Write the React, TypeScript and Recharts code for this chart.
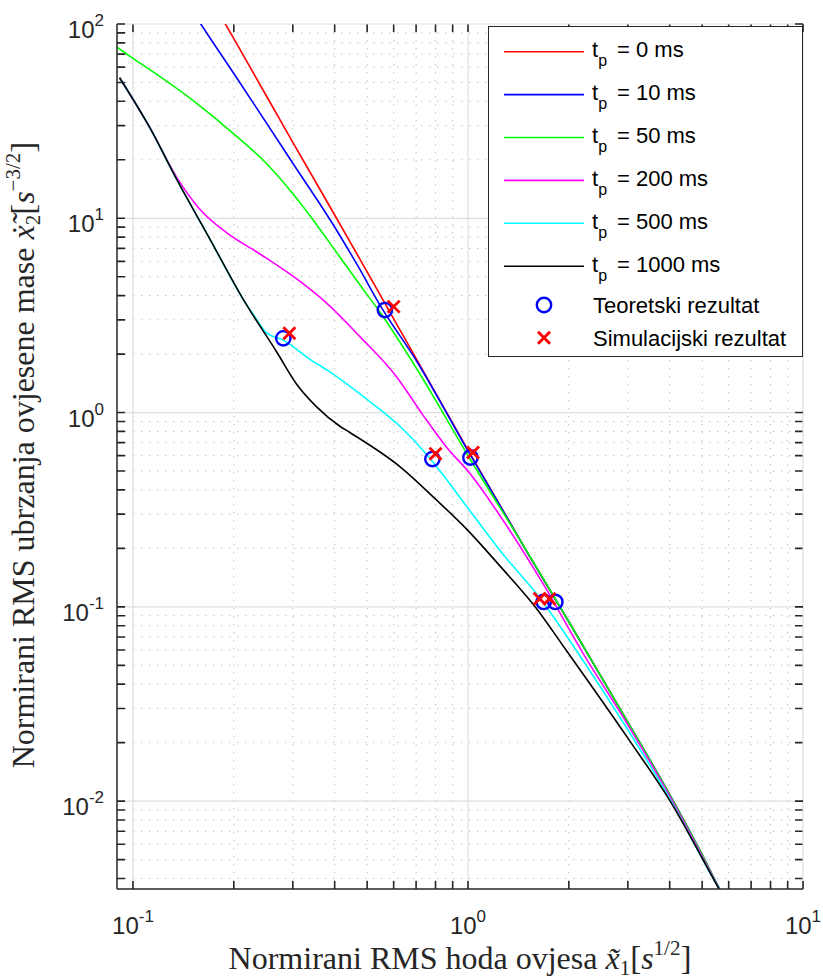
import React from 'react';
import { ComposedChart, Line, Scatter, XAxis, YAxis, ReferenceLine, Legend } from 'recharts';

// curves, one array per t_p
const tp0 = [
  { x: 0.178, y: 119 }, { x: 0.2, y: 84 }, { x: 0.3, y: 24.6 }, { x: 0.4, y: 10.4 },
  { x: 0.5, y: 5.3 }, { x: 0.7, y: 1.9 }, { x: 1.0, y: 0.64 }, { x: 1.5, y: 0.192 },
  { x: 2.0, y: 0.0838 }, { x: 3.0, y: 0.0255 }, { x: 4.0, y: 0.0108 }, { x: 5.0, y: 0.0053 },
  { x: 5.62, y: 0.00357 }, { x: 6.2, y: 0.0027 },
];
const tp10 = [
  { x: 0.145, y: 129 }, { x: 0.1594, y: 100 }, { x: 0.2, y: 55.6 }, { x: 0.2507, y: 30.8 },
  { x: 0.3, y: 19.2 }, { x: 0.394, y: 9.4 }, { x: 0.47, y: 5.65 }, { x: 0.549, y: 3.52 },
  { x: 0.7, y: 1.86 }, { x: 1.0, y: 0.635 }, { x: 1.5, y: 0.192 }, { x: 2.0, y: 0.0838 },
  { x: 3.0, y: 0.0255 }, { x: 4.0, y: 0.0108 }, { x: 5.0, y: 0.0053 }, { x: 5.62, y: 0.00357 },
  { x: 6.2, y: 0.0027 },
];
const tp50 = [
  { x: 0.0896, y: 76 }, { x: 0.0982, y: 68 }, { x: 0.1126, y: 58 }, { x: 0.1482, y: 41.4 },
  { x: 0.1994, y: 27.3 }, { x: 0.2507, y: 19.1 }, { x: 0.301, y: 13.3 }, { x: 0.345, y: 9.8 },
  { x: 0.387, y: 7.45 }, { x: 0.487, y: 4.3 }, { x: 0.541, y: 3.36 }, { x: 0.7, y: 1.7 },
  { x: 1.012, y: 0.58 }, { x: 1.5, y: 0.193 }, { x: 1.834, y: 0.108 }, { x: 2.0, y: 0.0838 },
  { x: 3.0, y: 0.0255 }, { x: 4.0, y: 0.0108 }, { x: 5.0, y: 0.0053 }, { x: 5.62, y: 0.00357 },
  { x: 6.2, y: 0.0027 },
];
const tp200 = [
  { x: 0.0912, y: 52.9 }, { x: 0.1126, y: 29 }, { x: 0.1352, y: 16.2 }, { x: 0.1586, y: 11.1 },
  { x: 0.1906, y: 8.41 }, { x: 0.2394, y: 6.55 }, { x: 0.301, y: 5.02 }, { x: 0.3785, y: 3.66 },
  { x: 0.4758, y: 2.46 }, { x: 0.6118, y: 1.53 }, { x: 0.734, y: 0.97 }, { x: 0.862, y: 0.665 },
  { x: 1.012, y: 0.487 }, { x: 1.271, y: 0.28 }, { x: 1.673, y: 0.132 }, { x: 2.201, y: 0.058 },
  { x: 3.0, y: 0.0247 }, { x: 4.0, y: 0.0106 }, { x: 5.0, y: 0.0052 }, { x: 5.62, y: 0.00355 },
  { x: 6.2, y: 0.0027 },
];
const tp500 = [
  { x: 0.0912, y: 52.9 }, { x: 0.1126, y: 29 }, { x: 0.1352, y: 15.8 }, { x: 0.17, y: 7.77 },
  { x: 0.2136, y: 3.81 }, { x: 0.232, y: 3.08 }, { x: 0.2507, y: 2.57 }, { x: 0.281, y: 2.36 },
  { x: 0.3375, y: 1.88 }, { x: 0.3872, y: 1.62 }, { x: 0.4866, y: 1.21 }, { x: 0.626, y: 0.85 },
  { x: 0.7516, y: 0.61 }, { x: 0.833, y: 0.49 }, { x: 0.989, y: 0.33 }, { x: 1.243, y: 0.196 },
  { x: 1.673, y: 0.106 }, { x: 2.104, y: 0.0598 }, { x: 3.0, y: 0.0233 }, { x: 4.0, y: 0.0103 },
  { x: 5.62, y: 0.00355 }, { x: 6.2, y: 0.0027 },
];
const tp1000 = [
  { x: 0.0912, y: 52.9 }, { x: 0.1126, y: 29 }, { x: 0.1352, y: 15.8 }, { x: 0.17, y: 7.77 },
  { x: 0.2136, y: 3.81 }, { x: 0.2686, y: 2.05 }, { x: 0.308, y: 1.4 }, { x: 0.3534, y: 1.07 },
  { x: 0.4147, y: 0.85 }, { x: 0.4437, y: 0.79 }, { x: 0.626, y: 0.527 }, { x: 0.805, y: 0.355 },
  { x: 0.989, y: 0.252 }, { x: 1.243, y: 0.163 }, { x: 1.58, y: 0.101 }, { x: 1.964, y: 0.0598 },
  { x: 3.0, y: 0.0211 }, { x: 4.0, y: 0.0101 }, { x: 5.62, y: 0.00352 }, { x: 6.2, y: 0.0026 },
];

const theoretical = [
  { x: 0.281, y: 2.41 }, { x: 0.565, y: 3.37 }, { x: 0.783, y: 0.576 },
  { x: 1.017, y: 0.587 }, { x: 1.683, y: 0.106 }, { x: 1.823, y: 0.106 },
];
const simulated = [
  { x: 0.293, y: 2.56 }, { x: 0.6, y: 3.51 }, { x: 0.8, y: 0.613 },
  { x: 1.035, y: 0.623 }, { x: 1.636, y: 0.11 }, { x: 1.751, y: 0.11 },
];

const xMajorTicks = [0.1, 1, 10];
const xMinorTicks = [0.2, 0.3, 0.4, 0.5, 0.6, 0.7, 0.8, 0.9, 2, 3, 4, 5, 6, 7, 8, 9];
const yMajorTicks = [0.01, 0.1, 1, 10, 100];
const yMinorTicks = [
  0.004, 0.005, 0.006, 0.007, 0.008, 0.009,
  0.02, 0.03, 0.04, 0.05, 0.06, 0.07, 0.08, 0.09,
  0.2, 0.3, 0.4, 0.5, 0.6, 0.7, 0.8, 0.9,
  2, 3, 4, 5, 6, 7, 8, 9,
  20, 30, 40, 50, 60, 70, 80, 90,
];

const xDomain: [number, number] = [0.0896, 10];
const yDomain: [number, number] = [0.00353, 100];

const series = [
  { key: 'tp0', label: '= 0 ms', color: '#ff0000', data: tp0 },
  { key: 'tp10', label: '= 10 ms', color: '#0000ff', data: tp10 },
  { key: 'tp50', label: '= 50 ms', color: '#00ff00', data: tp50 },
  { key: 'tp200', label: '= 200 ms', color: '#ff00ff', data: tp200 },
  { key: 'tp500', label: '= 500 ms', color: '#00ffff', data: tp500 },
  { key: 'tp1000', label: '= 1000 ms', color: '#000000', data: tp1000 },
];

const AXIS = '#262626';
const SANS = '"Liberation Sans", Arial, Helvetica, sans-serif';
const SERIF = '"Liberation Serif", "Times New Roman", serif';
const TICK_LEN = 8;
const TICK_W = 1.6;
const MAJOR_GRID = '#dedede';
const MINOR_GRID = '#c4c4c4';

const exp10 = (v: number) => Math.round(Math.log10(v));

const Power = ({ v }: { v: number }) => (
  <>
    10
    <tspan dy={-12} fontSize={17}>{String(exp10(v))}</tspan>
  </>
);

const BottomTick = (props: any) => {
  const { x, y, payload } = props;
  return (
    <text x={x} y={y + 45} textAnchor="middle" fontFamily={SANS} fontSize={24} fill={AXIS}>
      <Power v={payload.value} />
    </text>
  );
};

const LeftTick = (props: any) => {
  const { x, y, payload } = props;
  return (
    <text x={x - 13} y={y + 14} textAnchor="end" fontFamily={SANS} fontSize={24} fill={AXIS}>
      <Power v={payload.value} />
    </text>
  );
};

// grid line plus inward tick marks at both ends of the axes box
const vGrid = (major: boolean) => (p: any) => {
  const x = Number(p.x1);
  const top = Math.min(Number(p.y1), Number(p.y2));
  const bottom = Math.max(Number(p.y1), Number(p.y2));
  return (
    <g>
      <line x1={x} x2={x} y1={top} y2={bottom} stroke={major ? MAJOR_GRID : MINOR_GRID}
        strokeWidth={major ? 1.2 : 1} strokeDasharray={major ? undefined : '1.5 6.5'} />
      <path d={`M${x},${bottom}V${bottom - TICK_LEN}M${x},${top}V${top + TICK_LEN}`}
        stroke={AXIS} strokeWidth={TICK_W} fill="none" />
    </g>
  );
};

const hGrid = (major: boolean) => (p: any) => {
  const y = Number(p.y1);
  const left = Math.min(Number(p.x1), Number(p.x2));
  const right = Math.max(Number(p.x1), Number(p.x2));
  return (
    <g>
      <line x1={left} x2={right} y1={y} y2={y} stroke={major ? MAJOR_GRID : MINOR_GRID}
        strokeWidth={major ? 1.2 : 1} strokeDasharray={major ? undefined : '1.5 6.5'} />
      <path d={`M${left},${y}H${left + TICK_LEN}M${right},${y}H${right - TICK_LEN}`}
        stroke={AXIS} strokeWidth={TICK_W} fill="none" />
    </g>
  );
};

const XTitle = (props: any) => {
  const { viewBox } = props;
  const cx = viewBox.x + viewBox.width / 2;
  const by = viewBox.y + 80;
  return (
    <text x={cx} y={by} textAnchor="middle" fontFamily={SERIF} fontSize={32} fill={AXIS}>
      {'Normirani RMS hoda ovjesa '}
      <tspan fontStyle="italic">{'x\u0303'}</tspan>
      <tspan dy={6} fontSize={21}>1</tspan>
      <tspan dy={-6} fontSize={33}>[</tspan>
      <tspan fontStyle="italic">s</tspan>
      <tspan dy={-14} fontSize={21}>1/2</tspan>
      <tspan dy={14} fontSize={33}>]</tspan>
    </text>
  );
};

const YTitle = (props: any) => {
  const { viewBox } = props;
  const bx = viewBox.x + 34;
  const cy = viewBox.y + viewBox.height / 2 - 1.5;
  return (
    <text
      x={bx}
      y={cy}
      transform={`rotate(-90 ${bx} ${cy})`}
      textAnchor="middle"
      fontFamily={SERIF}
      fontSize={32}
      fill={AXIS}
    >
      {'Normirani RMS ubrzanja ovjesene mase '}
      <tspan fontStyle="italic">{'x\u0307\u0303'}</tspan>
      <tspan dy={6} fontSize={21}>2</tspan>
      <tspan dy={-6} fontSize={33}>[</tspan>
      <tspan fontStyle="italic">s</tspan>
      <tspan dy={-14} fontSize={21}>{'\u22123/2'}</tspan>
      <tspan dy={14} fontSize={33}>]</tspan>
    </text>
  );
};

const CircleMark = (props: any) => (
  <circle cx={props.cx} cy={props.cy} r={7.2} fill="none" stroke="#0000ff" strokeWidth={2.4} />
);

const CrossMark = (props: any) => {
  const { cx, cy } = props;
  const s = 6;
  return (
    <g stroke="#ff0000" strokeWidth={2.8}>
      <line x1={cx - s} y1={cy - s} x2={cx + s} y2={cy + s} />
      <line x1={cx - s} y1={cy + s} x2={cx + s} y2={cy - s} />
    </g>
  );
};

const LegendBox = () => {
  const rowGap = 42.9;
  return (
    <svg width={316} height={332} style={{ display: 'block' }}>
      <rect x={0.5} y={0.5} width={314} height={330} fill="#ffffff" stroke={AXIS} strokeWidth={1} />
      {series.map((s, i) => {
        const cy = 25.7 + i * rowGap;
        return (
          <g key={s.key}>
            <line x1={16} x2={96} y1={cy} y2={cy} stroke={s.color} strokeWidth={1.6} />
            <text x={104} y={cy + 5.6} fontFamily={SANS} fontSize={22} fill="#000">
              t
              <tspan dy={9} fontSize={16}>p</tspan>
              <tspan x={129} dy={-9}>{s.label}</tspan>
            </text>
          </g>
        );
      })}
      <CircleMark cx={56} cy={279} />
      <text x={105} y={287} fontFamily={SANS} fontSize={22} fill="#000">Teoretski rezultat</text>
      <CrossMark cx={56} cy={311.7} />
      <text x={105} y={319.5} fontFamily={SANS} fontSize={22} fill="#000">Simulacijski rezultat</text>
    </svg>
  );
};

export default function App() {
  return (
    <div style={{ position: 'absolute', left: 0, top: 0, width: 823, height: 979, background: '#fff' }}>
      <ComposedChart width={823} height={979} margin={{ top: 24, right: 20, bottom: 0, left: 0 }}>
        <XAxis
          dataKey="x"
          type="number"
          scale="log"
          domain={xDomain}
          allowDataOverflow
          ticks={xMajorTicks}
          interval={0}
          tickSize={0}
          tickMargin={0}
          tickLine={false}
          tick={<BottomTick />}
          height={90}
          axisLine={{ stroke: AXIS, strokeWidth: 1.5 }}
          label={<XTitle />}
        />
        <XAxis
          xAxisId="top"
          orientation="top"
          dataKey="x"
          type="number"
          scale="log"
          domain={xDomain}
          allowDataOverflow
          tick={false}
          tickLine={false}
          height={0}
          axisLine={{ stroke: AXIS, strokeWidth: 1.5 }}
        />
        <YAxis
          dataKey="y"
          type="number"
          scale="log"
          domain={yDomain}
          allowDataOverflow
          ticks={yMajorTicks}
          interval={0}
          tickSize={0}
          tickMargin={0}
          tickLine={false}
          tick={<LeftTick />}
          width={117}
          axisLine={{ stroke: AXIS, strokeWidth: 1.5 }}
          label={<YTitle />}
        />
        <YAxis
          yAxisId="right"
          orientation="right"
          dataKey="y"
          type="number"
          scale="log"
          domain={yDomain}
          allowDataOverflow
          tick={false}
          tickLine={false}
          width={0}
          axisLine={{ stroke: AXIS, strokeWidth: 1.5 }}
        />

        {xMinorTicks.map((v) => (
          <ReferenceLine key={`xm${v}`} x={v} shape={vGrid(false)} />
        ))}
        {yMinorTicks.map((v) => (
          <ReferenceLine key={`ym${v}`} y={v} shape={hGrid(false)} />
        ))}
        {xMajorTicks.map((v) => (
          <ReferenceLine key={`xM${v}`} x={v} shape={vGrid(true)} />
        ))}
        {yMajorTicks.map((v) => (
          <ReferenceLine key={`yM${v}`} y={v} shape={hGrid(true)} />
        ))}

        {series.map((s) => (
          <Line
            key={s.key}
            data={s.data}
            dataKey="y"
            type="monotone"
            stroke={s.color}
            strokeWidth={1.6}
            dot={false}
            activeDot={false}
            isAnimationActive={false}
          />
        ))}
        <Scatter data={theoretical} dataKey="y" shape={<CircleMark />} isAnimationActive={false} />
        <Scatter data={simulated} dataKey="y" shape={<CrossMark />} isAnimationActive={false} />

        <Legend
          layout="horizontal"
          verticalAlign="middle"
          align="center"
          wrapperStyle={{ position: 'absolute', left: 488, top: 26, width: 316, height: 332 }}
          content={() => <LegendBox />}
        />
      </ComposedChart>
    </div>
  );
}
